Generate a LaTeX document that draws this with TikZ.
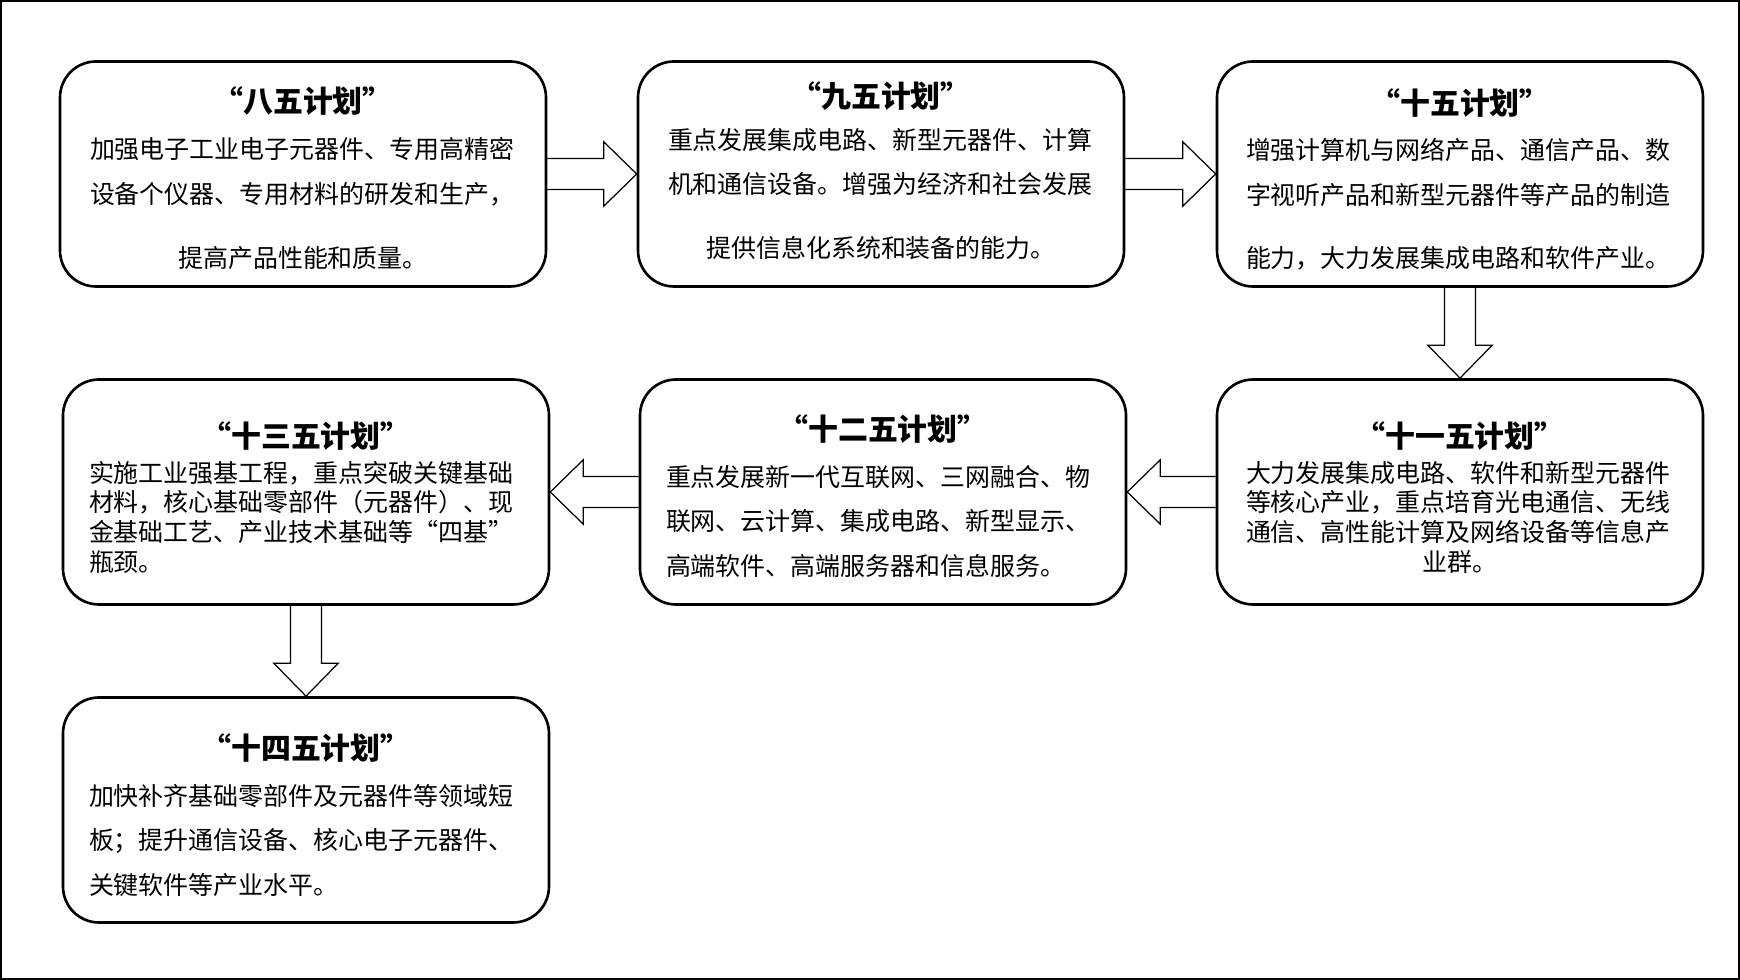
\documentclass[tikz,border=0pt]{standalone}
\usepackage{fontspec}
\setmainfont{Noto Sans CJK SC}
\usetikzlibrary{positioning, calc, backgrounds}
\tikzset{
    plan/.style={rectangle, rounded corners=0.72cm, draw=black, line width=1.5pt, minimum width=9.72cm, minimum height=4.5cm},
    ttl/.style={font=\fontsize{17pt}{20pt}\selectfont\bfseries, inner sep=0pt},
    txt/.style={font=\fontsize{14.2pt}{25.5pt}\selectfont, align=left, inner sep=0pt},
    tighttxt/.style={txt, font=\fontsize{14.2pt}{16.9pt}\selectfont},
    blk/.style={draw=black, line width=0.7pt, fill=white, line join=miter},
    frame/.style={draw=black, line width=1pt}
}
% hollow block arrow between two anchors
\newcommand{\blockarrow}[2]{%
  \coordinate (ah) at ($(#2)!0.66cm!(#1)$);
  \draw[blk] ($(#1)!0.31cm!90:(#2)$) -- ($(ah)!0.31cm!-90:(#1)$) -- ($(ah)!0.645cm!-90:(#1)$) -- (#2)
    -- ($(ah)!0.645cm!90:(#1)$) -- ($(ah)!0.31cm!90:(#1)$) -- ($(#1)!0.31cm!-90:(#2)$);
}

\begin{document}
\begin{tikzpicture}
    \useasboundingbox (0,0) rectangle (34.8,19.6);
    \draw[frame] (0.017,0.017) rectangle (34.783,19.583);

    % first row
    \node[plan] (p8)  at (6.06,16.12)  {};
    \node[plan] (p9)  at (17.62,16.12) {};
    \node[plan] (p10) at (29.2,16.12)  {};
    % second row
    \node[plan] (p11) at (29.2,9.76)   {};
    \node[plan] (p12) at (17.66,9.76)  {};
    \node[plan] (p13) at (6.12,9.76)   {};
    % last one
    \node[plan] (p14) at (6.12,3.4)    {};

    \node[ttl] (p8t) at ($(p8.north)+(0,-0.82)$) {“八五计划”};
    \node[txt, below right=1.53cm and 0.62cm of p8.north west] (p8b) {加强电子工业电子元器件、专用高精密\\设备个仪器、专用材料的研发和生产，};
    \node[txt] (p8c) at ($(p8.north)+(0,-3.96)$) {提高产品性能和质量。};

    \node[ttl] (p9t) at ($(p9.north)+(0,-0.71)$) {“九五计划”};
    \node[txt, below right=1.35cm and 0.62cm of p9.north west] (p9b) {重点发展集成电路、新型元器件、计算\\机和通信设备。增强为经济和社会发展};
    \node[txt] (p9c) at ($(p9.north)+(0,-3.75)$) {提供信息化系统和装备的能力。};

    \node[ttl] (p10t) at ($(p10.north)+(0,-0.86)$) {“十五计划”};
    \node[txt, below right=1.55cm and 0.6cm of p10.north west] (p10b) {增强计算机与网络产品、通信产品、数\\字视听产品和新型元器件等产品的制造};
    \node[txt, anchor=west] (p10c) at ($(p10.north west)+(0.6,-3.96)$) {能力，大力发展集成电路和软件产业。};

    \node[ttl] (p11t) at ($(p11.north)+(0,-1.16)$) {“十一五计划”};
    \node[tighttxt, below right=1.65cm and 0.6cm of p11.north west] (p11b) {大力发展集成电路、软件和新型元器件\\等核心产业，重点培育光电通信、无线\\通信、高性能计算及网络设备等信息产};
    \node[txt] (p11c) at ($(p11.north)+(0,-3.68)$) {业群。};

    \node[ttl] (p12t) at ($(p12.north)+(0,-1.01)$) {“十二五计划”};
    \node[txt, below right=1.73cm and 0.54cm of p12.north west] (p12b) {重点发展新一代互联网、三网融合、物\\联网、云计算、集成电路、新型显示、\\高端软件、高端服务器和信息服务。};

    \node[ttl] (p13t) at ($(p13.north)+(0,-1.16)$) {“十三五计划”};
    \node[tighttxt, below right=1.65cm and 0.54cm of p13.north west] (p13b) {实施工业强基工程，重点突破关键基础\\材料，核心基础零部件（元器件）、现\\金基础工艺、产业技术基础等“四基”\\瓶颈。};

    \node[ttl] (p14t) at ($(p14.north)+(0,-1.04)$) {“十四五计划”};
    \node[txt, below right=1.75cm and 0.54cm of p14.north west] (p14b) {加快补齐基础零部件及元器件等领域短\\板；提升通信设备、核心电子元器件、\\关键软件等产业水平。};

    \begin{scope}[on background layer]
    \blockarrow{p8.east}{p9.west}
    \blockarrow{p9.east}{p10.west}
    \blockarrow{p10.south}{p11.north}
    \blockarrow{p11.west}{p12.east}
    \blockarrow{p12.west}{p13.east}
    \blockarrow{p13.south}{p14.north}
    \end{scope}
\end{tikzpicture}
\end{document}
